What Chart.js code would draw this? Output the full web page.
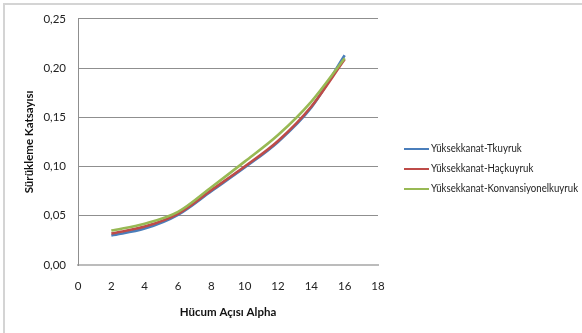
<html>
<script src="https://cdn.jsdelivr.net/npm/chart.js@4.4.0/dist/chart.umd.min.js"></script>
<style>
  body { margin: 0; background: #fff; }
  #frame {
    position: absolute; left: 3px; top: 3px; width: 600px; height: 340px;
    border-top: 2px solid #d4d4d4; border-left: 2px solid #d4d4d4;
  }
  #wrap { position: absolute; left: 0; top: 0; width: 582px; height: 333px; }
</style>
<body>
  <div id="frame"></div>
  <div id="wrap"><canvas id="dragChart"></canvas></div>
</body>
<script>
  // angle of attack (x) and drag coefficient per tail type
  var alphaValues = [2, 4, 6, 8, 10, 12, 14, 16];
  var tKuyruk = [0.030, 0.037, 0.051, 0.075, 0.099, 0.125, 0.160, 0.213];
  var hacKuyruk = [0.032, 0.039, 0.052, 0.076, 0.100, 0.126, 0.161, 0.209];
  var konvKuyruk = [0.035, 0.042, 0.054, 0.079, 0.105, 0.132, 0.166, 0.210];
  var seriesNames = ["Yüksekkanat-Tkuyruk", "Yüksekkanat-Haçkuyruk", "Yüksekkanat-Konvansiyonelkuyruk"];
  var xTicks = [0, 2, 4, 6, 8, 10, 12, 14, 16, 18];
  var yTicks = [0, 0.05, 0.10, 0.15, 0.20, 0.25];

  var fontName = "Lato";

  function toPoints(ys) {
    return alphaValues.map(function (a, i) { return { x: a, y: ys[i] }; });
  }

  function lineSet(name, ys, color, order) {
    return {
      label: name,
      data: toPoints(ys),
      borderColor: color,
      backgroundColor: color,
      borderWidth: 2.6,
      pointRadius: 0,
      cubicInterpolationMode: "monotone",
      fill: false,
      order: order
    };
  }

  // simple legend on the right, drawn from the datasets
  var sideLegend = {
    id: "sideLegend",
    afterDraw: function (chart) {
      var c = chart.ctx;
      var x0 = 404, y0 = 149, rowGap = 20;
      c.save();
      c.font = "10.5px " + fontName;
      c.textBaseline = "middle";
      c.fillStyle = "#222";
      chart.data.datasets.forEach(function (ds, i) {
        var y = y0 + i * rowGap;
        c.strokeStyle = ds.borderColor;
        c.lineWidth = 2;
        c.beginPath();
        c.moveTo(x0, y);
        c.lineTo(x0 + 25, y);
        c.stroke();
        var w = c.measureText(ds.label).width;
        c.fillText(ds.label, x0 + 27, y, Math.min(w, w * 0.92));
      });
      c.restore();
    }
  };

  var ctx = document.getElementById("dragChart");

  var dragChart = new Chart(ctx, {
    type: "line",
    data: {
      datasets: [
        lineSet(seriesNames[0], tKuyruk, "#4a7ebb", 3),
        lineSet(seriesNames[1], hacKuyruk, "#be4b48", 2),
        lineSet(seriesNames[2], konvKuyruk, "#98b954", 1)
      ]
    },
    plugins: [sideLegend],
    options: {
      responsive: true,
      maintainAspectRatio: false,
      animation: false,
      layout: { padding: { top: 17, right: 204, left: 0, bottom: 0 } },
      plugins: {
        tooltip: { enabled: false },
        legend: { display: false }
      },
      scales: {
        x: {
          type: "linear",
          min: 0,
          max: 18,
          afterBuildTicks: function (scale) {
            scale.ticks = xTicks.map(function (v) { return { value: v }; });
          },
          afterFit: function (scale) { scale.height = 68; },
          grid: { display: false, drawTicks: false },
          border: { display: true, color: "#bcbcbc", width: 2 },
          ticks: {
            padding: 14,
            color: "#222",
            font: { family: fontName, size: 11.5 }
          },
          title: {
            display: true,
            text: "Hücum Açısı Alpha",
            color: "#111",
            font: { family: fontName, size: 11.5, weight: "bold" },
            padding: { top: 0, bottom: 14 }
          }
        },
        y: {
          min: 0,
          max: 0.25,
          afterBuildTicks: function (scale) {
            scale.ticks = yTicks.map(function (v) { return { value: v }; });
          },
          afterFit: function (scale) { scale.width = 78; },
          grid: { color: "#8f8f8f", lineWidth: 1, drawTicks: false },
          border: { display: true, color: "#8f8f8f", width: 1 },
          ticks: {
            padding: 12,
            color: "#222",
            font: { family: fontName, size: 11.5 },
            callback: function (v) { return v.toFixed(2).replace(".", ","); }
          },
          title: {
            display: true,
            text: "Sürükleme Katsayısı",
            color: "#111",
            font: { family: fontName, size: 11.5, weight: "bold" },
            padding: { top: 22, bottom: 0 }
          }
        }
      }
    }
  });
</script>
</html>
